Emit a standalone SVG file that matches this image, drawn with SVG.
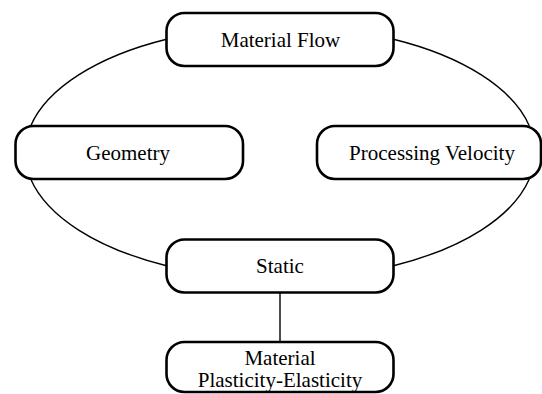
<svg xmlns="http://www.w3.org/2000/svg" width="542" height="394" viewBox="0 0 542 394">
<style>
.box{fill:#fff;stroke:#000;stroke-width:2.6}
.lbl{font-family:"Liberation Serif","Times New Roman",serif;font-size:21px;fill:#000;text-anchor:middle}
.conn{fill:none;stroke:#000;stroke-width:1.4}
</style>
<rect width="542" height="394" fill="#fff"/>
<g id="connectors">
<path class="conn" d="M166.5,39.3 A255,126.5 0 0,0 30.7,126"/>
<path class="conn" d="M30.7,179 A255,126.5 0 0,0 166.5,265.7"/>
<path class="conn" d="M393.5,39.3 A255,126.5 0 0,1 529.3,126"/>
<path class="conn" d="M529.3,179 A255,126.5 0 0,1 393.5,265.7"/>
<line class="conn" x1="280" y1="292.5" x2="280" y2="342"/>
</g>
<g id="material-flow">
<rect class="box" x="166.5" y="13" width="227" height="53" rx="18"/>
<text class="lbl" x="280.5" y="47">Material Flow</text>
</g>
<g id="geometry">
<rect class="box" x="15.5" y="126" width="227.5" height="53" rx="18"/>
<text class="lbl" x="128" y="160">Geometry</text>
</g>
<g id="processing-velocity">
<rect class="box" x="317" y="126" width="224" height="53" rx="18"/>
<text class="lbl" x="432" y="160">Processing Velocity</text>
</g>
<g id="static">
<rect class="box" x="166.5" y="239.5" width="227" height="53" rx="18"/>
<text class="lbl" x="280" y="273">Static</text>
</g>
<g id="material-plasticity-elasticity">
<rect class="box" x="166.5" y="342" width="227" height="50" rx="18"/>
<text class="lbl" x="280" y="365">Material</text>
<text class="lbl" x="280" y="387">Plasticity-Elasticity</text>
</g>
</svg>
